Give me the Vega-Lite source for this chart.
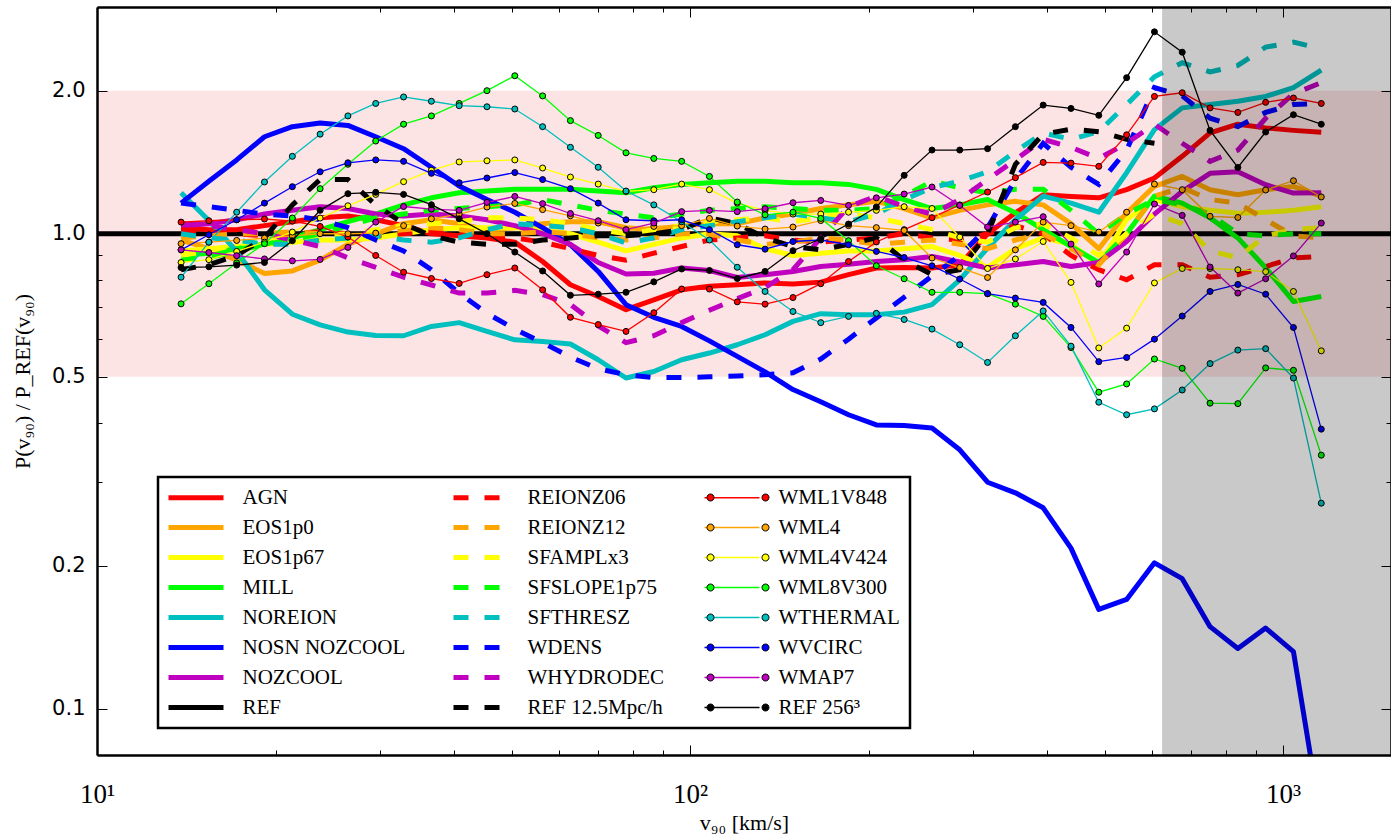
{
"$schema":"https://vega.github.io/schema/vega-lite/v6.json",
"width":1294,"height":748,
"autosize":{"type":"none"},
"padding":{"left":97,"top":7,"right":0,"bottom":81},
"background":"white",
"config":{"view":{"stroke":null}},
"data":{"values":[
{"v":10,"REF":1},
{"v":13.86,"AGN":1.03,"EOS1p0":0.97,"EOS1p67":0.92,"MILL":0.9,"NOREION":1.22,"NOSN_NOZCOOL":1.16,"NOZCOOL":1.04,"REF":1,"REIONZ06":1.02,"REIONZ12":0.98,"SFAMPLx3":0.9,"SFSLOPE1p75":0.88,"SFTHRESZ":1.0,"WDENS":1.16,"WHYDRODEC":1.05,"REF_12p5":0.84,"WML1V848":1.058,"WML4":0.953,"WML4V424":0.87,"WML8V300":0.712,"WTHERMAL":0.81,"WVCIRC":0.925,"WMAP7":0.925,"REF_256":0.849},
{"v":15.44,"AGN":1.02,"EOS1p0":0.93,"EOS1p67":0.93,"MILL":0.91,"NOREION":1.066,"NOSN_NOZCOOL":1.29,"NOZCOOL":1.05,"REF":1,"REIONZ06":1.01,"REIONZ12":0.99,"SFAMPLx3":0.92,"SFSLOPE1p75":0.89,"SFTHRESZ":0.98,"WDENS":1.14,"WHYDRODEC":1.04,"REF_12p5":0.86,"WML1V848":1.065,"WML4":0.96,"WML4V424":0.882,"WML8V300":0.785,"WTHERMAL":0.96,"WVCIRC":0.995,"WMAP7":0.913,"REF_256":0.852},
{"v":17.2,"AGN":1.02,"EOS1p0":0.88,"EOS1p67":0.94,"MILL":0.93,"NOREION":0.918,"NOSN_NOZCOOL":1.43,"NOZCOOL":1.07,"REF":1,"REIONZ06":1.0,"REIONZ12":1.0,"SFAMPLx3":0.95,"SFSLOPE1p75":0.92,"SFTHRESZ":0.97,"WDENS":1.12,"WHYDRODEC":1.02,"REF_12p5":0.9,"WML1V848":1.07,"WML4":0.968,"WML4V424":0.918,"WML8V300":0.868,"WTHERMAL":1.11,"WVCIRC":1.07,"WMAP7":0.899,"REF_256":0.859},
{"v":19.16,"AGN":1.04,"EOS1p0":0.825,"EOS1p67":0.95,"MILL":0.95,"NOREION":0.762,"NOSN_NOZCOOL":1.6,"NOZCOOL":1.1,"REF":1,"REIONZ06":0.99,"REIONZ12":1.0,"SFAMPLx3":0.97,"SFSLOPE1p75":0.95,"SFTHRESZ":0.95,"WDENS":1.1,"WHYDRODEC":1.0,"REF_12p5":0.98,"WML1V848":1.074,"WML4":0.979,"WML4V424":0.96,"WML8V300":0.953,"WTHERMAL":1.285,"WVCIRC":1.16,"WMAP7":0.885,"REF_256":0.87},
{"v":21.35,"AGN":1.06,"EOS1p0":0.835,"EOS1p67":0.96,"MILL":0.98,"NOREION":0.677,"NOSN_NOZCOOL":1.68,"NOZCOOL":1.12,"REF":1,"REIONZ06":1.0,"REIONZ12":1.01,"SFAMPLx3":0.98,"SFSLOPE1p75":0.97,"SFTHRESZ":0.95,"WDENS":1.09,"WHYDRODEC":0.97,"REF_12p5":1.15,"WML1V848":1.063,"WML4":0.99,"WML4V424":1.008,"WML8V300":1.079,"WTHERMAL":1.455,"WVCIRC":1.256,"WMAP7":0.877,"REF_256":0.967},
{"v":23.78,"AGN":1.08,"EOS1p0":0.88,"EOS1p67":0.97,"MILL":1.02,"NOREION":0.643,"NOSN_NOZCOOL":1.71,"NOZCOOL":1.14,"REF":1,"REIONZ06":1.01,"REIONZ12":1.0,"SFAMPLx3":0.99,"SFSLOPE1p75":1.0,"SFTHRESZ":0.97,"WDENS":1.07,"WHYDRODEC":0.94,"REF_12p5":1.3,"WML1V848":1.036,"WML4":1.0,"WML4V424":1.079,"WML8V300":1.244,"WTHERMAL":1.62,"WVCIRC":1.35,"WMAP7":0.883,"REF_256":1.12},
{"v":26.49,"AGN":1.09,"EOS1p0":0.95,"EOS1p67":0.97,"MILL":1.06,"NOREION":0.621,"NOSN_NOZCOOL":1.69,"NOZCOOL":1.13,"REF":1,"REIONZ06":1.0,"REIONZ12":0.99,"SFAMPLx3":1.0,"SFSLOPE1p75":1.04,"SFTHRESZ":0.98,"WDENS":1.03,"WHYDRODEC":0.89,"REF_12p5":1.3,"WML1V848":0.984,"WML4":1.0,"WML4V424":1.145,"WML8V300":1.4,"WTHERMAL":1.77,"WVCIRC":1.41,"WMAP7":0.936,"REF_256":1.214},
{"v":29.51,"AGN":1.07,"EOS1p0":1.0,"EOS1p67":0.98,"MILL":1.1,"NOREION":0.611,"NOSN_NOZCOOL":1.6,"NOZCOOL":1.1,"REF":1,"REIONZ06":0.99,"REIONZ12":1.0,"SFAMPLx3":1.02,"SFSLOPE1p75":1.08,"SFTHRESZ":0.99,"WDENS":0.97,"WHYDRODEC":0.85,"REF_12p5":1.15,"WML1V848":0.9,"WML4":1.003,"WML4V424":1.21,"WML8V300":1.567,"WTHERMAL":1.88,"WVCIRC":1.43,"WMAP7":1.058,"REF_256":1.222},
{"v":32.88,"AGN":1.04,"EOS1p0":1.05,"EOS1p67":1.0,"MILL":1.15,"NOREION":0.61,"NOSN_NOZCOOL":1.51,"NOZCOOL":1.09,"REF":1,"REIONZ06":1.0,"REIONZ12":1.02,"SFAMPLx3":1.04,"SFSLOPE1p75":1.1,"SFTHRESZ":0.97,"WDENS":0.92,"WHYDRODEC":0.81,"REF_12p5":1.05,"WML1V848":0.83,"WML4":1.04,"WML4V424":1.287,"WML8V300":1.7,"WTHERMAL":1.94,"WVCIRC":1.42,"WMAP7":1.141,"REF_256":1.21},
{"v":36.63,"AGN":1.0,"EOS1p0":1.07,"EOS1p67":1.02,"MILL":1.19,"NOREION":0.638,"NOSN_NOZCOOL":1.38,"NOZCOOL":1.1,"REF":1,"REIONZ06":1.01,"REIONZ12":1.03,"SFAMPLx3":1.05,"SFSLOPE1p75":1.12,"SFTHRESZ":0.96,"WDENS":0.84,"WHYDRODEC":0.78,"REF_12p5":0.99,"WML1V848":0.805,"WML4":1.075,"WML4V424":1.36,"WML8V300":1.77,"WTHERMAL":1.9,"WVCIRC":1.34,"WMAP7":1.127,"REF_256":1.151},
{"v":40.8,"AGN":0.99,"EOS1p0":1.05,"EOS1p67":1.03,"MILL":1.22,"NOREION":0.65,"NOSN_NOZCOOL":1.26,"NOZCOOL":1.09,"REF":1,"REIONZ06":1.0,"REIONZ12":1.02,"SFAMPLx3":1.06,"SFSLOPE1p75":1.13,"SFTHRESZ":0.98,"WDENS":0.75,"WHYDRODEC":0.75,"REF_12p5":0.96,"WML1V848":0.786,"WML4":1.1,"WML4V424":1.416,"WML8V300":1.88,"WTHERMAL":1.86,"WVCIRC":1.28,"WMAP7":1.12,"REF_256":1.075},
{"v":45.45,"AGN":0.98,"EOS1p0":1.02,"EOS1p67":1.03,"MILL":1.23,"NOREION":0.623,"NOSN_NOZCOOL":1.18,"NOZCOOL":1.07,"REF":1,"REIONZ06":0.98,"REIONZ12":1.0,"SFAMPLx3":1.08,"SFSLOPE1p75":1.14,"SFTHRESZ":1.02,"WDENS":0.68,"WHYDRODEC":0.75,"REF_12p5":0.95,"WML1V848":0.82,"WML4":1.138,"WML4V424":1.424,"WML8V300":2.0,"WTHERMAL":1.85,"WVCIRC":1.31,"WMAP7":1.164,"REF_256":1.0},
{"v":50.64,"AGN":0.96,"EOS1p0":1.03,"EOS1p67":1.03,"MILL":1.24,"NOREION":0.598,"NOSN_NOZCOOL":1.11,"NOZCOOL":1.04,"REF":1,"REIONZ06":0.98,"REIONZ12":1.0,"SFAMPLx3":1.08,"SFSLOPE1p75":1.15,"SFTHRESZ":1.05,"WDENS":0.63,"WHYDRODEC":0.76,"REF_12p5":0.95,"WML1V848":0.847,"WML4":1.158,"WML4V424":1.43,"WML8V300":2.15,"WTHERMAL":1.83,"WVCIRC":1.345,"WMAP7":1.198,"REF_256":0.915},
{"v":56.41,"AGN":0.874,"EOS1p0":1.05,"EOS1p67":1.02,"MILL":1.24,"NOREION":0.593,"NOSN_NOZCOOL":1.03,"NOZCOOL":1.0,"REF":1,"REIONZ06":0.96,"REIONZ12":1.01,"SFAMPLx3":1.07,"SFSLOPE1p75":1.18,"SFTHRESZ":1.04,"WDENS":0.59,"WHYDRODEC":0.745,"REF_12p5":0.97,"WML1V848":0.762,"WML4":1.124,"WML4V424":1.375,"WML8V300":1.95,"WTHERMAL":1.68,"WVCIRC":1.3,"WMAP7":1.157,"REF_256":0.835},
{"v":62.84,"AGN":0.781,"EOS1p0":1.06,"EOS1p67":1.0,"MILL":1.24,"NOREION":0.586,"NOSN_NOZCOOL":0.948,"NOZCOOL":0.95,"REF":1,"REIONZ06":0.93,"REIONZ12":1.0,"SFAMPLx3":1.05,"SFSLOPE1p75":1.15,"SFTHRESZ":1.03,"WDENS":0.55,"WHYDRODEC":0.71,"REF_12p5":0.98,"WML1V848":0.667,"WML4":1.091,"WML4V424":1.316,"WML8V300":1.73,"WTHERMAL":1.52,"WVCIRC":1.244,"WMAP7":1.103,"REF_256":0.742},
{"v":70.0,"AGN":0.738,"EOS1p0":1.06,"EOS1p67":0.96,"MILL":1.23,"NOREION":0.543,"NOSN_NOZCOOL":0.833,"NOZCOOL":0.87,"REF":1,"REIONZ06":0.9,"REIONZ12":0.98,"SFAMPLx3":1.02,"SFSLOPE1p75":1.12,"SFTHRESZ":1.0,"WDENS":0.52,"WHYDRODEC":0.64,"REF_12p5":0.99,"WML1V848":0.644,"WML4":1.053,"WML4V424":1.272,"WML8V300":1.61,"WTHERMAL":1.38,"WVCIRC":1.16,"WMAP7":1.065,"REF_256":0.746},
{"v":77.98,"AGN":0.692,"EOS1p0":1.03,"EOS1p67":0.92,"MILL":1.22,"NOREION":0.497,"NOSN_NOZCOOL":0.709,"NOZCOOL":0.823,"REF":1,"REIONZ06":0.88,"REIONZ12":0.97,"SFAMPLx3":1.0,"SFSLOPE1p75":1.1,"SFTHRESZ":0.956,"WDENS":0.505,"WHYDRODEC":0.59,"REF_12p5":0.99,"WML1V848":0.623,"WML4":1.016,"WML4V424":1.228,"WML8V300":1.48,"WTHERMAL":1.23,"WVCIRC":1.07,"WMAP7":1.02,"REF_256":0.753},
{"v":86.87,"AGN":0.726,"EOS1p0":1.02,"EOS1p67":0.95,"MILL":1.25,"NOREION":0.513,"NOSN_NOZCOOL":0.667,"NOZCOOL":0.826,"REF":1,"REIONZ06":0.91,"REIONZ12":0.98,"SFAMPLx3":1.02,"SFSLOPE1p75":1.08,"SFTHRESZ":0.98,"WDENS":0.498,"WHYDRODEC":0.61,"REF_12p5":1.0,"WML1V848":0.682,"WML4":1.036,"WML4V424":1.238,"WML8V300":1.44,"WTHERMAL":1.15,"WVCIRC":1.065,"WMAP7":1.053,"REF_256":0.792},
{"v":96.78,"AGN":0.762,"EOS1p0":1.04,"EOS1p67":0.98,"MILL":1.27,"NOREION":0.543,"NOSN_NOZCOOL":0.638,"NOZCOOL":0.847,"REF":1,"REIONZ06":0.94,"REIONZ12":1.0,"SFAMPLx3":1.04,"SFSLOPE1p75":1.1,"SFTHRESZ":1.02,"WDENS":0.498,"WHYDRODEC":0.65,"REF_12p5":1.02,"WML1V848":0.765,"WML4":1.04,"WML4V424":1.272,"WML8V300":1.42,"WTHERMAL":1.06,"WVCIRC":1.07,"WMAP7":1.113,"REF_256":0.843},
{"v":107.8,"AGN":0.775,"EOS1p0":1.05,"EOS1p67":1.0,"MILL":1.28,"NOREION":0.561,"NOSN_NOZCOOL":0.595,"NOZCOOL":0.837,"REF":1,"REIONZ06":0.97,"REIONZ12":1.0,"SFAMPLx3":1.06,"SFSLOPE1p75":1.12,"SFTHRESZ":1.04,"WDENS":0.5,"WHYDRODEC":0.69,"REF_12p5":1.08,"WML1V848":0.765,"WML4":1.077,"WML4V424":1.238,"WML8V300":1.32,"WTHERMAL":0.97,"WVCIRC":1.02,"WMAP7":1.12,"REF_256":0.837},
{"v":120.1,"AGN":0.781,"EOS1p0":1.05,"EOS1p67":0.99,"MILL":1.29,"NOREION":0.584,"NOSN_NOZCOOL":0.552,"NOZCOOL":0.809,"REF":1,"REIONZ06":0.98,"REIONZ12":0.97,"SFAMPLx3":1.07,"SFSLOPE1p75":1.13,"SFTHRESZ":1.06,"WDENS":0.502,"WHYDRODEC":0.73,"REF_12p5":1.05,"WML1V848":0.719,"WML4":1.038,"WML4V424":1.16,"WML8V300":1.166,"WTHERMAL":0.85,"WVCIRC":0.948,"WMAP7":1.113,"REF_256":0.805},
{"v":133.8,"AGN":0.788,"EOS1p0":1.08,"EOS1p67":0.93,"MILL":1.29,"NOREION":0.613,"NOSN_NOZCOOL":0.512,"NOZCOOL":0.82,"REF":1,"REIONZ06":0.99,"REIONZ12":0.95,"SFAMPLx3":1.08,"SFSLOPE1p75":1.14,"SFTHRESZ":1.08,"WDENS":0.505,"WHYDRODEC":0.77,"REF_12p5":0.98,"WML1V848":0.711,"WML4":1.023,"WML4V424":1.12,"WML8V300":1.096,"WTHERMAL":0.756,"WVCIRC":0.928,"WMAP7":1.129,"REF_256":0.833},
{"v":149.1,"AGN":0.784,"EOS1p0":1.1,"EOS1p67":0.9,"MILL":1.28,"NOREION":0.654,"NOSN_NOZCOOL":0.47,"NOZCOOL":0.833,"REF":1,"REIONZ06":0.97,"REIONZ12":0.96,"SFAMPLx3":1.06,"SFSLOPE1p75":1.13,"SFTHRESZ":1.1,"WDENS":0.51,"WHYDRODEC":0.84,"REF_12p5":0.94,"WML1V848":0.734,"WML4":1.033,"WML4V424":1.1,"WML8V300":1.11,"WTHERMAL":0.686,"WVCIRC":0.963,"WMAP7":1.162,"REF_256":0.921},
{"v":166.1,"AGN":0.791,"EOS1p0":1.13,"EOS1p67":0.91,"MILL":1.28,"NOREION":0.679,"NOSN_NOZCOOL":0.443,"NOZCOOL":0.853,"REF":1,"REIONZ06":0.96,"REIONZ12":0.98,"SFAMPLx3":1.08,"SFSLOPE1p75":1.12,"SFTHRESZ":1.08,"WDENS":0.545,"WHYDRODEC":0.98,"REF_12p5":0.925,"WML1V848":0.785,"WML4":1.066,"WML4V424":1.1,"WML8V300":1.077,"WTHERMAL":0.65,"WVCIRC":0.97,"WMAP7":1.175,"REF_256":0.976},
{"v":185.0,"AGN":0.82,"EOS1p0":1.15,"EOS1p67":0.92,"MILL":1.27,"NOREION":0.675,"NOSN_NOZCOOL":0.416,"NOZCOOL":0.863,"REF":1,"REIONZ06":0.97,"REIONZ12":0.97,"SFAMPLx3":1.1,"SFSLOPE1p75":1.12,"SFTHRESZ":1.06,"WDENS":0.6,"WHYDRODEC":1.14,"REF_12p5":0.95,"WML1V848":0.874,"WML4":1.04,"WML4V424":1.11,"WML8V300":0.967,"WTHERMAL":0.67,"WVCIRC":0.948,"WMAP7":1.147,"REF_256":1.048},
{"v":206.1,"AGN":0.847,"EOS1p0":1.17,"EOS1p67":0.92,"MILL":1.24,"NOREION":0.675,"NOSN_NOZCOOL":0.396,"NOZCOOL":0.874,"REF":1,"REIONZ06":0.98,"REIONZ12":0.95,"SFAMPLx3":1.08,"SFSLOPE1p75":1.13,"SFTHRESZ":1.1,"WDENS":0.665,"WHYDRODEC":1.2,"REF_12p5":0.98,"WML1V848":0.961,"WML4":1.03,"WML4V424":1.12,"WML8V300":0.856,"WTHERMAL":0.68,"WVCIRC":0.918,"WMAP7":1.19,"REF_256":1.138},
{"v":229.6,"AGN":0.849,"EOS1p0":1.13,"EOS1p67":0.93,"MILL":1.18,"NOREION":0.684,"NOSN_NOZCOOL":0.395,"NOZCOOL":0.882,"REF":1,"REIONZ06":1.0,"REIONZ12":0.96,"SFAMPLx3":1.05,"SFSLOPE1p75":1.2,"SFTHRESZ":1.18,"WDENS":0.735,"WHYDRODEC":1.14,"REF_12p5":0.88,"WML1V848":1.02,"WML4":1.016,"WML4V424":1.14,"WML8V300":0.804,"WTHERMAL":0.66,"WVCIRC":0.891,"WMAP7":1.212,"REF_256":1.327},
{"v":255.8,"AGN":0.847,"EOS1p0":1.08,"EOS1p67":0.94,"MILL":1.13,"NOREION":0.709,"NOSN_NOZCOOL":0.39,"NOZCOOL":0.896,"REF":1,"REIONZ06":0.98,"REIONZ12":0.97,"SFAMPLx3":1.02,"SFSLOPE1p75":1.29,"SFTHRESZ":1.25,"WDENS":0.815,"WHYDRODEC":1.1,"REF_12p5":0.82,"WML1V848":1.081,"WML4":0.889,"WML4V424":1.13,"WML8V300":0.753,"WTHERMAL":0.63,"WVCIRC":0.856,"WMAP7":1.254,"REF_256":1.5},
{"v":284.9,"AGN":0.86,"EOS1p0":1.12,"EOS1p67":0.9,"MILL":1.15,"NOREION":0.8,"NOSN_NOZCOOL":0.351,"NOZCOOL":0.872,"REF":1,"REIONZ06":0.97,"REIONZ12":0.95,"SFAMPLx3":0.98,"SFSLOPE1p75":1.25,"SFTHRESZ":1.29,"WDENS":0.9,"WHYDRODEC":1.18,"REF_12p5":0.84,"WML1V848":1.15,"WML4":0.849,"WML4V424":0.984,"WML8V300":0.753,"WTHERMAL":0.584,"WVCIRC":0.803,"WMAP7":1.147,"REF_256":1.5},
{"v":317.4,"AGN":1.0,"EOS1p0":1.15,"EOS1p67":0.85,"MILL":1.18,"NOREION":0.933,"NOSN_NOZCOOL":0.3,"NOZCOOL":0.847,"REF":1,"REIONZ06":1.0,"REIONZ12":0.93,"SFAMPLx3":0.96,"SFSLOPE1p75":1.22,"SFTHRESZ":1.35,"WDENS":1.03,"WHYDRODEC":1.3,"REF_12p5":1.0,"WML1V848":1.224,"WML4":0.809,"WML4V424":0.845,"WML8V300":0.748,"WTHERMAL":0.536,"WVCIRC":0.748,"WMAP7":1.033,"REF_256":1.51},
{"v":353.6,"AGN":1.107,"EOS1p0":1.17,"EOS1p67":0.93,"MILL":1.107,"NOREION":1.07,"NOSN_NOZCOOL":0.285,"NOZCOOL":0.86,"REF":1,"REIONZ06":1.04,"REIONZ12":0.97,"SFAMPLx3":1.03,"SFSLOPE1p75":1.24,"SFTHRESZ":1.49,"WDENS":1.3,"WHYDRODEC":1.43,"REF_12p5":1.4,"WML1V848":1.312,"WML4":0.925,"WML4V424":0.885,"WML8V300":0.711,"WTHERMAL":0.61,"WVCIRC":0.732,"WMAP7":1.058,"REF_256":1.68},
{"v":393.9,"AGN":1.208,"EOS1p0":1.15,"EOS1p67":0.98,"MILL":1.02,"NOREION":1.2,"NOSN_NOZCOOL":0.265,"NOZCOOL":0.874,"REF":1,"REIONZ06":1.0,"REIONZ12":1.0,"SFAMPLx3":1.05,"SFSLOPE1p75":1.24,"SFTHRESZ":1.63,"WDENS":1.55,"WHYDRODEC":1.58,"REF_12p5":1.62,"WML1V848":1.413,"WML4":1.058,"WML4V424":0.963,"WML8V300":0.67,"WTHERMAL":0.688,"WVCIRC":0.717,"WMAP7":1.086,"REF_256":1.865},
{"v":438.8,"AGN":1.198,"EOS1p0":1.05,"EOS1p67":0.95,"MILL":0.94,"NOREION":1.16,"NOSN_NOZCOOL":0.218,"NOZCOOL":0.853,"REF":1,"REIONZ06":0.9,"REIONZ12":0.93,"SFAMPLx3":0.98,"SFSLOPE1p75":1.12,"SFTHRESZ":1.58,"WDENS":1.38,"WHYDRODEC":1.52,"REF_12p5":1.66,"WML1V848":1.408,"WML4":1.04,"WML4V424":0.79,"WML8V300":0.576,"WTHERMAL":0.58,"WVCIRC":0.635,"WMAP7":0.951,"REF_256":1.835},
{"v":488.8,"AGN":1.19,"EOS1p0":0.93,"EOS1p67":0.86,"MILL":0.87,"NOREION":1.11,"NOSN_NOZCOOL":0.162,"NOZCOOL":0.87,"REF":1,"REIONZ06":0.84,"REIONZ12":0.86,"SFAMPLx3":0.9,"SFSLOPE1p75":1.0,"SFTHRESZ":1.64,"WDENS":1.27,"WHYDRODEC":1.44,"REF_12p5":1.64,"WML1V848":1.386,"WML4":1.008,"WML4V424":0.575,"WML8V300":0.464,"WTHERMAL":0.442,"WVCIRC":0.538,"WMAP7":0.784,"REF_256":1.775},
{"v":544.6,"AGN":1.238,"EOS1p0":1.106,"EOS1p67":1.07,"MILL":1.0,"NOREION":1.344,"NOSN_NOZCOOL":0.17,"NOZCOOL":0.963,"REF":1,"REIONZ06":0.8,"REIONZ12":1.0,"SFAMPLx3":1.0,"SFSLOPE1p75":1.1,"SFTHRESZ":1.87,"WDENS":1.5,"WHYDRODEC":1.55,"REF_12p5":1.58,"WML1V848":1.615,"WML4":1.11,"WML4V424":0.633,"WML8V300":0.483,"WTHERMAL":0.416,"WVCIRC":0.549,"WMAP7":0.915,"REF_256":2.13},
{"v":606.7,"AGN":1.31,"EOS1p0":1.258,"EOS1p67":1.18,"MILL":1.2,"NOREION":1.656,"NOSN_NOZCOOL":0.203,"NOZCOOL":1.1,"REF":1,"REIONZ06":0.86,"REIONZ12":1.2,"SFAMPLx3":1.1,"SFSLOPE1p75":1.18,"SFTHRESZ":2.14,"WDENS":2.03,"WHYDRODEC":1.7,"REF_12p5":1.55,"WML1V848":1.945,"WML4":1.272,"WML4V424":0.788,"WML8V300":0.545,"WTHERMAL":0.428,"WVCIRC":0.6,"WMAP7":1.155,"REF_256":2.66},
{"v":675.8,"AGN":1.455,"EOS1p0":1.32,"EOS1p67":1.14,"MILL":1.16,"NOREION":1.84,"NOSN_NOZCOOL":0.188,"NOZCOOL":1.228,"REF":1,"REIONZ06":0.86,"REIONZ12":1.25,"SFAMPLx3":1.05,"SFSLOPE1p75":1.15,"SFTHRESZ":2.29,"WDENS":1.95,"WHYDRODEC":1.55,"WML1V848":1.98,"WML4":1.238,"WML4V424":0.845,"WML8V300":0.521,"WTHERMAL":0.469,"WVCIRC":0.671,"WMAP7":1.093,"REF_256":2.41},
{"v":752.9,"AGN":1.63,"EOS1p0":1.238,"EOS1p67":1.12,"MILL":1.08,"NOREION":1.87,"NOSN_NOZCOOL":0.149,"NOZCOOL":1.34,"REF":1,"REIONZ06":0.81,"REIONZ12":1.18,"SFAMPLx3":0.92,"SFSLOPE1p75":1.1,"SFTHRESZ":2.19,"WDENS":1.75,"WHYDRODEC":1.42,"WML1V848":1.84,"WML4":1.088,"WML4V424":0.845,"WML8V300":0.44,"WTHERMAL":0.533,"WVCIRC":0.756,"WMAP7":0.851,"REF_256":1.65},
{"v":838.7,"AGN":1.7,"EOS1p0":1.208,"EOS1p67":1.105,"MILL":0.98,"NOREION":1.9,"NOSN_NOZCOOL":0.134,"NOZCOOL":1.35,"REF":1,"REIONZ06":0.82,"REIONZ12":1.16,"SFAMPLx3":0.89,"SFSLOPE1p75":1.0,"SFTHRESZ":2.26,"WDENS":1.68,"WHYDRODEC":1.5,"WML1V848":1.8,"WML4":1.082,"WML4V424":0.84,"WML8V300":0.439,"WTHERMAL":0.569,"WVCIRC":0.782,"WMAP7":0.75,"REF_256":1.379},
{"v":934.3,"AGN":1.67,"EOS1p0":1.238,"EOS1p67":1.11,"MILL":0.848,"NOREION":1.945,"NOSN_NOZCOOL":0.148,"NOZCOOL":1.268,"REF":1,"REIONZ06":0.853,"REIONZ12":1.07,"SFAMPLx3":0.99,"SFSLOPE1p75":0.99,"SFTHRESZ":2.47,"WDENS":1.8,"WHYDRODEC":1.75,"WML1V848":1.89,"WML4":1.236,"WML4V424":0.832,"WML8V300":0.522,"WTHERMAL":0.573,"WVCIRC":0.746,"WMAP7":0.804,"REF_256":1.637},
{"v":1040.8,"AGN":1.65,"EOS1p0":1.258,"EOS1p67":1.12,"MILL":0.72,"NOREION":2.03,"NOSN_NOZCOOL":0.132,"NOZCOOL":1.218,"REF":1,"REIONZ06":0.89,"REIONZ12":0.99,"SFAMPLx3":1.02,"SFSLOPE1p75":1.0,"SFTHRESZ":2.53,"WDENS":1.87,"WHYDRODEC":1.97,"WML1V848":1.93,"WML4":1.293,"WML4V424":0.756,"WML8V300":0.516,"WTHERMAL":0.497,"WVCIRC":0.635,"WMAP7":0.898,"REF_256":1.78},
{"v":1159.5,"AGN":1.635,"EOS1p0":1.2,"EOS1p67":1.14,"MILL":0.738,"NOREION":2.21,"NOSN_NOZCOOL":0.058,"NOZCOOL":1.22,"REF":1,"REIONZ06":0.896,"REIONZ12":0.98,"SFAMPLx3":1.03,"SFSLOPE1p75":1.0,"SFTHRESZ":2.45,"WDENS":1.88,"WHYDRODEC":2.08,"WML1V848":1.88,"WML4":1.195,"WML4V424":0.567,"WML8V300":0.342,"WTHERMAL":0.271,"WVCIRC":0.388,"WMAP7":1.053,"REF_256":1.7},
{"v":1520,"REF":1}
]},
"resolve":{"axis":{"x":"independent","y":"independent"}},
"layer":[
{"data":{"values":[{}]},
 "mark":{"type":"rect","fill":"#fde4e4"},
 "encoding":{"y":{"datum":0.5,"type":"quantitative","axis":null},"y2":{"datum":2.0}}},
{"transform":[{"fold":["AGN","EOS1p0","EOS1p67","MILL","NOREION","NOSN_NOZCOOL","NOZCOOL","REF"],"as":["name","val"]},{"filter":"isValid(datum.val)"}],
 "mark":{"type":"line","strokeWidth":5,"clip":true,"strokeJoin":"round"},
 "encoding":{
  "x":{"field":"v","type":"quantitative","scale":{"type":"log","domain":[10,1520],"nice":false},
   "axis":{"orient":"bottom","values":[10,20,30,40,50,60,70,80,90,100,200,300,400,500,600,700,800,900,1000],
    "labelExpr":"datum.value == 10 ? '10¹' : datum.value == 100 ? '10²' : datum.value == 1000 ? '10³' : ''",
    "labelFont":"Liberation Serif","labelFontSize":27,"labelColor":"black","labelPadding":36,"labelFlush":false,"labelOverlap":false,
    "tickSize":{"condition":{"test":"datum.value == 10 || datum.value == 100 || datum.value == 1000","value":-10},"value":-5},
    "tickColor":"black","tickWidth":1,"domainColor":"black","domainWidth":2.5,"grid":false,"zindex":1,
    "title":"v₉₀ [km/s]","titleFont":"Liberation Serif","titleFontSize":22,"titleFontWeight":"normal","titleColor":"black","titleY":67,"titleBaseline":"middle"}},
  "y":{"field":"val","type":"quantitative","scale":{"type":"log","domain":[0.08,3],"nice":false},
   "axis":{"orient":"left","values":[0.1,0.2,0.3,0.4,0.5,0.6,0.7,0.8,0.9,1,2,3],
    "labelExpr":"indexof([0.1,0.2,0.5,1,2], datum.value) >= 0 ? format(datum.value, '.1f') : ''",
    "labelFont":"DejaVu Sans","labelFontSize":21,"labelColor":"black","labelPadding":22,"labelFlush":false,"labelOverlap":false,
    "tickSize":{"condition":{"test":"indexof([0.1,0.2,0.5,1,2], datum.value) >= 0","value":-10},"value":-5},
    "tickColor":"black","tickWidth":1,"domainColor":"black","domainWidth":2.5,"grid":false,"zindex":1,
    "title":"P(v₉₀) / P_REF(v₉₀)","titleFont":"Liberation Serif","titleFontSize":22,"titleFontWeight":"normal","titleColor":"black","titleX":-75,"titleY":374,"titleAngle":-90,"titleBaseline":"middle","titleAlign":"center"}},
  "color":{"field":"name","type":"nominal",
   "scale":{"domain":["AGN","REIONZ06","WML1V848","EOS1p0","REIONZ12","WML4","EOS1p67","SFAMPLx3","WML4V424","MILL","SFSLOPE1p75","WML8V300","NOREION","SFTHRESZ","WTHERMAL","NOSN_NOZCOOL","WDENS","WVCIRC","NOZCOOL","WHYDRODEC","WMAP7","REF","REF_12p5","REF_256"],
    "range":["#ff0000","#ff0000","#ff0000","#ffa500","#ffa500","#ffa500","#ffff00","#ffff00","#ffff00","#00ff00","#00ff00","#00ff00","#00bfbf","#00bfbf","#00bfbf","#0000ff","#0000ff","#0000ff","#bf00bf","#bf00bf","#bf00bf","#000000","#000000","#000000"]},
   "legend":{"orient":"none","legendX":61,"legendY":470,"direction":"horizontal","columns":3,"columnPadding":37,"rowPadding":8,"title":null,
    "symbolType":"M-2.75,0H2.75","symbolSize":400,"symbolOffset":17.5,"symbolFillColor":"transparent","symbolStrokeWidth":5,
    "labelFont":"Liberation Serif","labelFontSize":21,"labelColor":"black","labelOffset":36,"labelLimit":400,
    "labelExpr":"datum.label == 'REF_12p5' ? 'REF 12.5Mpc/h' : datum.label == 'REF_256' ? 'REF 256³' : datum.label == 'NOSN_NOZCOOL' ? 'NOSN NOZCOOL' : datum.label",
    "padding":10,"strokeColor":"black","fillColor":"white",
    "encode":{"legend":{"update":{"strokeWidth":{"value":2.5}}},
     "symbols":{"update":{
      "strokeWidth":{"signal":"indexof(['WML1V848','WML4','WML4V424','WML8V300','WTHERMAL','WVCIRC','WMAP7','REF_256'], datum.value) >= 0 ? 1.3 : 5"},
      "strokeDash":{"signal":"indexof(['REIONZ06','REIONZ12','SFAMPLx3','SFSLOPE1p75','SFTHRESZ','WDENS','WHYDRODEC','REF_12p5'], datum.value) >= 0 ? [15,16] : [1,0]"}}}}}}
 }},
{"transform":[{"fold":["REIONZ06","REIONZ12","SFAMPLx3","SFSLOPE1p75","SFTHRESZ","WDENS","WHYDRODEC","REF_12p5"],"as":["name","val"]},{"filter":"isValid(datum.val)"}],
 "mark":{"type":"line","strokeWidth":5,"strokeDash":[15,16],"clip":true},
 "encoding":{
  "x":{"field":"v","type":"quantitative","axis":null},
  "y":{"field":"val","type":"quantitative","axis":null},
  "color":{"field":"name","type":"nominal"}
 }},
{"transform":[{"fold":["WML1V848","WML4","WML4V424","WML8V300","WTHERMAL","WVCIRC","WMAP7","REF_256"],"as":["name","val"]},{"filter":"isValid(datum.val)"}],
 "mark":{"type":"line","strokeWidth":1.3,"clip":true},
 "encoding":{
  "x":{"field":"v","type":"quantitative","axis":null},
  "y":{"field":"val","type":"quantitative","axis":null},
  "color":{"field":"name","type":"nominal"}
 }},
{"transform":[{"fold":["WML1V848","WML4","WML4V424","WML8V300","WTHERMAL","WVCIRC","WMAP7","REF_256"],"as":["name","val"]},{"filter":"isValid(datum.val)"}],
 "mark":{"type":"point","shape":"circle","filled":true,"size":36,"stroke":"black","strokeWidth":1,"opacity":1,"clip":true},
 "encoding":{
  "x":{"field":"v","type":"quantitative",
   "axis":{"orient":"top","values":[10,20,30,40,50,60,70,80,90,100,200,300,400,500,600,700,800,900,1000],"labels":false,
    "tickSize":{"condition":{"test":"datum.value == 10 || datum.value == 100 || datum.value == 1000","value":-10},"value":-5},
    "tickColor":"black","tickWidth":1,"domainColor":"black","domainWidth":2.5,"grid":false,"zindex":1,"title":null}},
  "y":{"field":"val","type":"quantitative",
   "axis":{"orient":"right","values":[0.1,0.2,0.3,0.4,0.5,0.6,0.7,0.8,0.9,1,2,3],"labels":false,
    "tickSize":{"condition":{"test":"indexof([0.1,0.2,0.5,1,2], datum.value) >= 0","value":-10},"value":-5},
    "tickColor":"black","tickWidth":1,"domainColor":"black","domainWidth":2.5,"grid":false,"zindex":1,"title":null}},
  "fill":{"field":"name","type":"nominal",
   "scale":{"domain":["WML1V848","WML4","WML4V424","WML8V300","WTHERMAL","WVCIRC","WMAP7","REF_256"],
    "range":["#ff0000","#ffa500","#ffff00","#00ff00","#00bfbf","#0000ff","#bf00bf","#000000"]},
   "legend":{"orient":"none","legendX":613,"legendY":480,"direction":"vertical","rowPadding":8,"title":null,
    "symbolType":"M-2.75,0m-0.35,0a0.35,0.35 0 1,0 0.7,0a0.35,0.35 0 1,0 -0.7,0M2.75,0m-0.35,0a0.35,0.35 0 1,0 0.7,0a0.35,0.35 0 1,0 -0.7,0",
    "symbolSize":400,"symbolOffset":17.5,"symbolStrokeColor":"black","symbolStrokeWidth":1,
    "labelFont":"Liberation Serif","labelFontSize":21,"labelOffset":36,"labelOpacity":0,"labelLimit":400,
    "labelExpr":"''",
    "padding":0,
    "encode":{"symbols":{"update":{"stroke":{"value":"black"},"strokeWidth":{"value":1}}}}}}
 }},
{"data":{"values":[{}]},
 "mark":{"type":"rect","fill":"#000000","opacity":0.21},
 "encoding":{"x":{"datum":625,"type":"quantitative","axis":null},"x2":{"datum":1520}}}
]
}
